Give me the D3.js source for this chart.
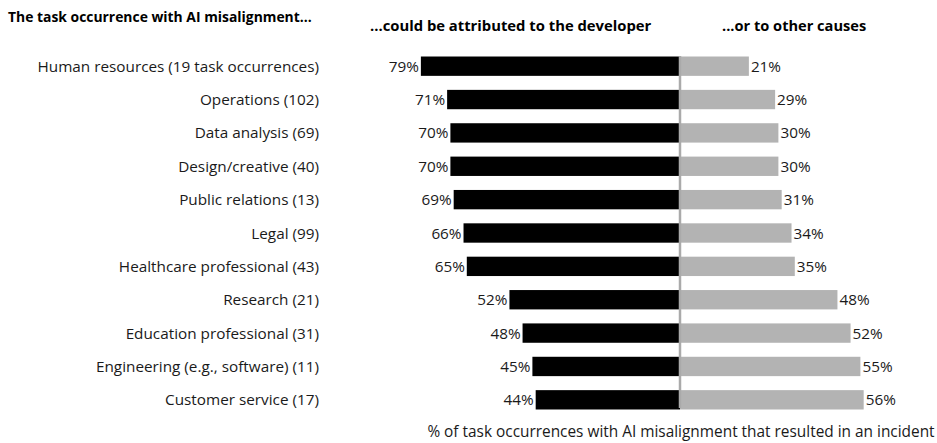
<!DOCTYPE html>
<html><head><meta charset="utf-8">
<script src="https://cdn.jsdelivr.net/npm/d3@7"></script>
<style>body{margin:0;background:#fff}svg text{font-family:"Open Sans","Noto Sans",sans-serif}</style>
</head><body><svg id="c" width="937" height="443"></svg>
<script>
const categories = ["Human resources (19 task occurrences)","Operations (102)","Data analysis (69)","Design/creative (40)","Public relations (13)","Legal (99)","Healthcare professional (43)","Research (21)","Education professional (31)","Engineering (e.g., software) (11)","Customer service (17)"];
const developerPct = [79,71,70,70,69,66,65,52,48,45,44];
const otherPct = [21,29,30,30,31,34,35,48,52,55,56];
const headers = ["The task occurrence with AI misalignment...","...could be attributed to the developer","...or to other causes"];
const axisTitle = "% of task occurrences with AI misalignment that resulted in an incident";

const svg = d3.select("#c");
const cx = 680;
const x = d3.scaleLinear().domain([0,100]).range([0,328]);
const y = d3.scaleBand().domain(categories).range([49.5,416.5]).paddingInner(0.42).paddingOuter(0.21);
const fs = 15.3;

svg.append("text").attr("x",8).attr("y",22).attr("font-size",13.9).attr("font-weight","bold").attr("fill","#000").text(headers[0]);
svg.append("text").attr("x",370).attr("y",31).attr("font-size",14.8).attr("font-weight","bold").attr("fill","#000").text(headers[1]);
svg.append("text").attr("x",722).attr("y",31).attr("font-size",14.6).attr("font-weight","bold").attr("fill","#000").text(headers[2]);

const g = svg.append("g");
categories.forEach((c,i)=>{
  const yy = y(c), h = y.bandwidth();
  g.append("rect").attr("x",cx - x(developerPct[i])).attr("y",yy).attr("width",x(developerPct[i])).attr("height",h).attr("fill","#000");
  g.append("rect").attr("x",cx).attr("y",yy).attr("width",x(otherPct[i])).attr("height",h).attr("fill","#b3b3b3");
  g.append("text").attr("x",cx - x(developerPct[i]) - 2).attr("y",yy+h/2).attr("dy","0.36em").attr("text-anchor","end").attr("font-size",fs).attr("fill","#1a1a1a").text(developerPct[i]+"%");
  g.append("text").attr("x",cx + x(otherPct[i]) + 2).attr("y",yy+h/2).attr("dy","0.36em").attr("font-size",fs).attr("fill","#1a1a1a").text(otherPct[i]+"%");
  g.append("text").attr("x",319).attr("y",yy+h/2).attr("dy","0.36em").attr("text-anchor","end").attr("font-size",fs).attr("fill","#1a1a1a").text(c);
});
svg.append("line").attr("x1",cx).attr("x2",cx).attr("y1",56).attr("y2",408).attr("stroke","#aaa").attr("stroke-width",2.5);
svg.append("text").attr("x",681).attr("y",437).attr("text-anchor","middle").attr("font-size",15.4).attr("fill","#1a1a1a").text(axisTitle);
</script></body></html>
